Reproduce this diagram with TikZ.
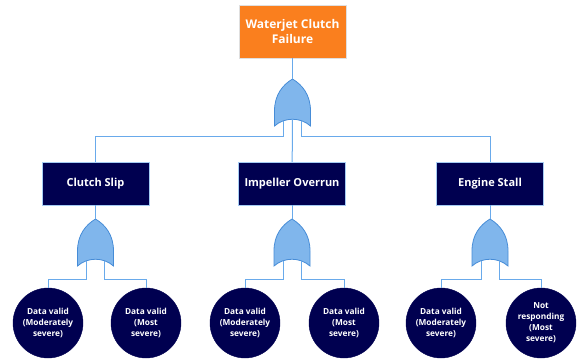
\documentclass[tikz,border=0pt]{standalone}
\usepackage{fontspec}
\setmainfont{Open Sans}
\definecolor{navybox}{RGB}{0,0,80}
\definecolor{faultorange}{RGB}{250,127,30}
\definecolor{wireblue}{RGB}{105,170,235}
\definecolor{gatefill}{RGB}{128,182,236}
\definecolor{gateline}{RGB}{70,140,215}
\tikzstyle{topevent}=[draw=gray!25, fill=faultorange, text=white, font=\bfseries\fontsize{12}{15}\selectfont, minimum width=107pt, minimum height=53pt, align=center, inner sep=0]
\tikzstyle{event}=[draw=wireblue!60, fill=navybox, text=white, font=\bfseries\fontsize{11}{13}\selectfont, minimum width=107pt, minimum height=43pt, inner sep=0]
\tikzstyle{basic}=[circle, draw=navybox, fill=navybox, text=white, font=\bfseries\fontsize{8.3}{11}\selectfont, minimum size=70pt, inner sep=0, align=center]
\tikzstyle{wire}=[wireblue, line width=1pt]
% or gate pointing up, tip at the origin
\tikzset{orgate/.pic={
  \filldraw[fill=gatefill, draw=gateline, line width=0.8pt]
    (0,0) .. controls (10,6) and (18,16) .. (18,32) -- (18,47)
    .. controls (8,38) and (-8,38) .. (-18,47) -- (-18,32)
    .. controls (-18,16) and (-10,6) .. (0,0) -- cycle;
  \coordinate (-out) at (0,0);
  \coordinate (-in1) at (-9,42);
  \coordinate (-in2) at (0,40);
  \coordinate (-in3) at (9,42);
}}

\begin{document}
\begin{tikzpicture}[x=1pt, y=-1pt]
  \useasboundingbox (0,0) rectangle (582,361);
  \node[topevent] (top) at (292.5,31.5) {Waterjet Clutch\\Failure};
  \node[event] (slip) at (95.5,183.5) {Clutch Slip};
  \node[event] (overrun) at (292,183.5) {Impeller Overrun};
  \node[event] (stall) at (490,183.5) {Engine Stall};

  \pic (topgate) at (292.5,79) {orgate};
  \pic (slipgate) at (95.5,219) {orgate};
  \pic (overrungate) at (292,219) {orgate};
  \pic (stallgate) at (490,219) {orgate};

  \node[basic] (c1) at (48,323) {Data valid\\(Moderately\\severe)};
  \node[basic] (c2) at (146,323) {Data valid\\(Most\\severe)};
  \node[basic] (c3) at (245,323) {Data valid\\(Moderately\\severe)};
  \node[basic] (c4) at (344,323) {Data valid\\(Most\\severe)};
  \node[basic] (c5) at (441,323) {Data valid\\(Moderately\\severe)};
  \node[basic] (c6) at (541,323) {Not\\responding\\(Most\\severe)};

  % top level
  \draw[wire] (top) -- (topgate-out);
  \draw[wire] (topgate-in1) -- ++(0,16) -| (slip);
  \draw[wire] (topgate-in2) -- (overrun);
  \draw[wire] (topgate-in3) -- ++(0,16) -| (stall);

  % second level
  \draw[wire] (slip) -- (slipgate-out);
  \draw[wire] (overrun) -- (overrungate-out);
  \draw[wire] (stall) -- (stallgate-out);
  \draw[wire] (slipgate-in1) -- ++(0,18) -| (c1);
  \draw[wire] (slipgate-in3) -- ++(0,18) -| (c2);
  \draw[wire] (overrungate-in1) -- ++(0,18) -| (c3);
  \draw[wire] (overrungate-in3) -- ++(0,18) -| (c4);
  \draw[wire] (stallgate-in1) -- ++(0,18) -| (c5);
  \draw[wire] (stallgate-in3) -- ++(0,18) -| (c6);
\end{tikzpicture}
\end{document}
